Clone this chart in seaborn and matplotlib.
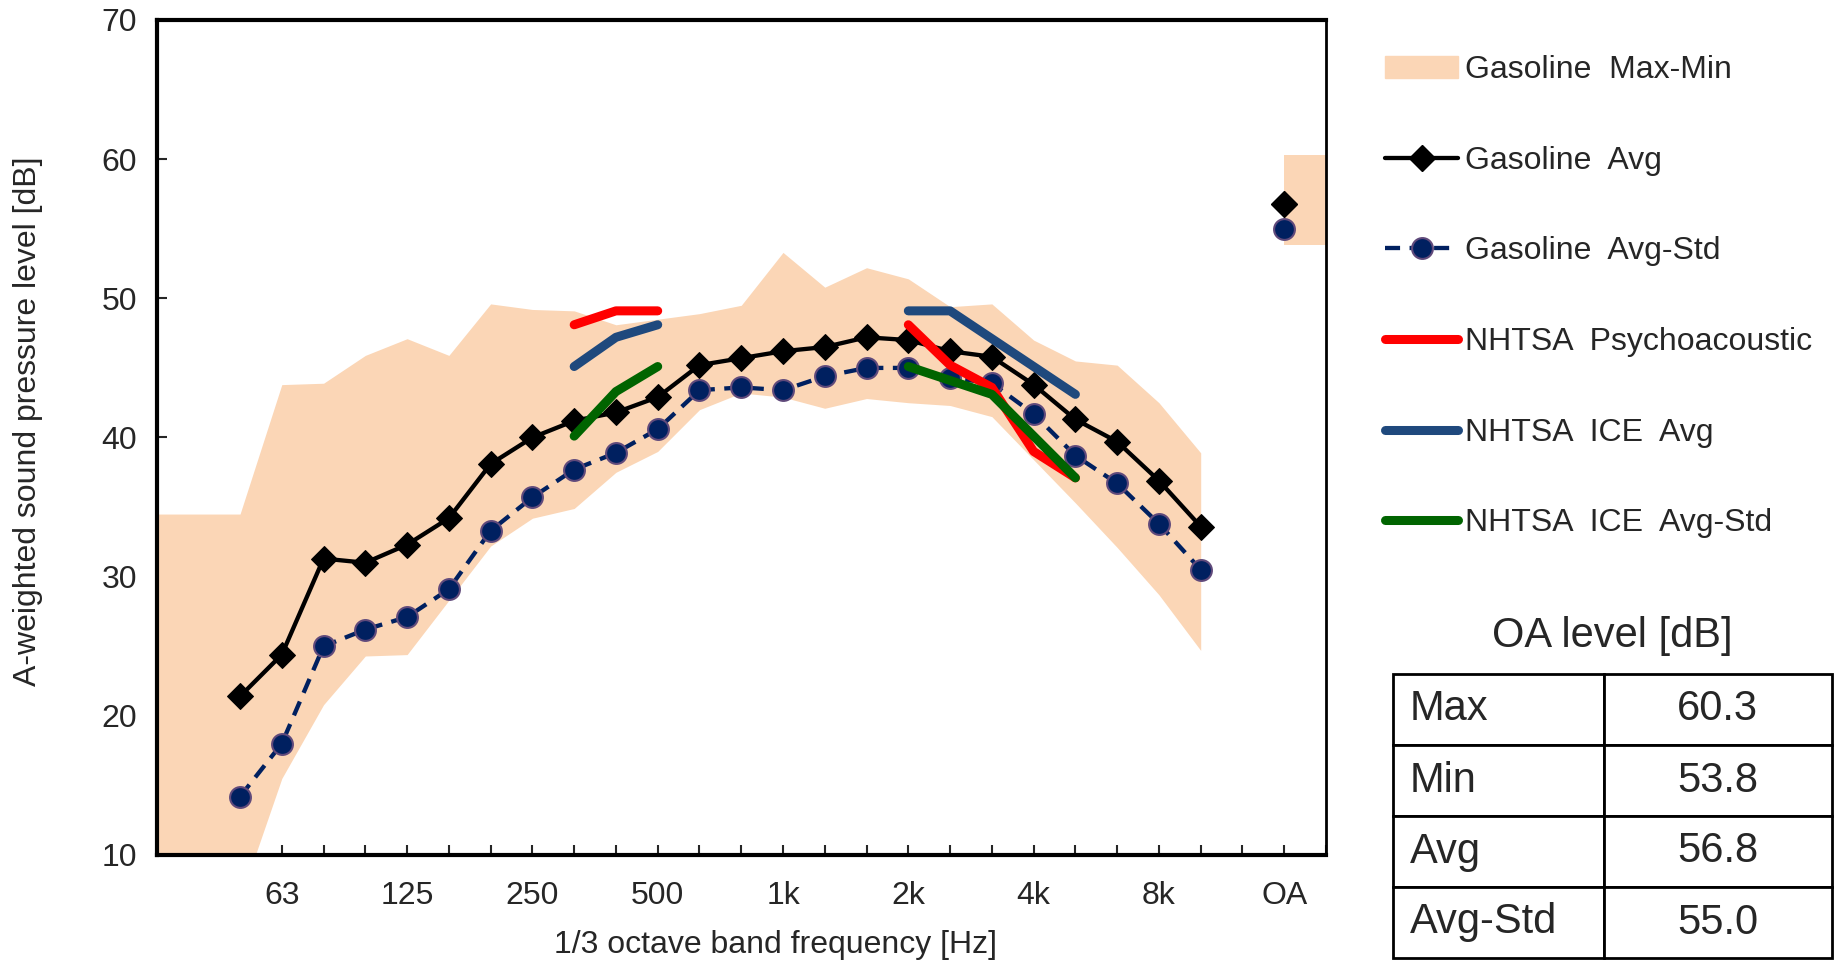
import numpy as np
import matplotlib
matplotlib.use('Agg')
import matplotlib.pyplot as plt
import seaborn as sns
from matplotlib.patches import Patch

# Category axis: two empty slots, 1/3 octave bands 50 Hz - 10 kHz, empty slot, OA
bands = ['50', '63', '80', '100', '125', '160', '200', '250', '315', '400', '500',
         '630', '800', '1k', '1.25k', '1.6k', '2k', '2.5k', '3.15k', '4k', '5k',
         '6.3k', '8k', '10k']
categories = ['', ''] + bands + ['', 'OA']
shown_labels = ['63', '125', '250', '500', '1k', '2k', '4k', '8k', 'OA']

# Gasoline Max-Min envelope (first two values belong to the empty leading slots)
gas_max = [34.5, 34.5, 34.5, 43.8, 43.9, 45.9, 47.1, 45.9, 49.6, 49.2, 49.1, 48.1,
           48.5, 48.9, 49.5, 53.3, 50.8, 52.2, 51.4, 49.4, 49.6, 47.0, 45.5, 45.2,
           42.5, 38.9]
gas_min = [0.0, 0.0, 6.8, 15.5, 20.8, 24.3, 24.4, 28.3, 32.2, 34.2, 34.9, 37.5,
           39.0, 42.0, 43.2, 42.9, 42.1, 42.8, 42.5, 42.3, 41.5, 38.4, 35.3, 32.1,
           28.7, 24.7]

# Gasoline per-band levels
gas_avg = [21.4, 24.4, 31.3, 31.0, 32.3, 34.2, 38.1, 40.0, 41.2, 41.8, 42.9, 45.2,
           45.7, 46.2, 46.5, 47.2, 47.0, 46.2, 45.8, 43.8, 41.3, 39.7, 36.9, 33.6]
gas_avg_std = [14.2, 18.0, 25.0, 26.2, 27.1, 29.1, 33.3, 35.7, 37.7, 38.9, 40.6, 43.4,
               43.6, 43.4, 44.4, 45.0, 45.0, 44.3, 43.9, 41.7, 38.7, 36.7, 33.8, 30.5]

# Overall (OA) levels
oa_names = ['Max', 'Min', 'Avg', 'Avg-Std']
oa_values = [60.3, 53.8, 56.8, 55.0]

# NHTSA minimum levels, two band groups
nhtsa_low_bands = ['315', '400', '500']
nhtsa_high_bands = ['2k', '2.5k', '3.15k', '4k', '5k']
psy_low = [48.1, 49.1, 49.1]
psy_high = [48.1, 45.2, 43.6, 39.0, 37.1]
ice_avg_low = [45.1, 47.2, 48.1]
ice_avg_high = [49.1, 49.1, 47.1, 45.1, 43.1]
ice_std_low = [40.1, 43.3, 45.1]
ice_std_high = [45.1, 44.1, 43.1, 40.1, 37.1]

sns.set_style('ticks')
plt.rcParams['font.family'] = ['Liberation Sans', 'DejaVu Sans']

pos = {c: i for i, c in enumerate(categories) if c}
band_pos = [pos[b] for b in bands]
oa_pos = pos['OA']

fig = plt.figure(figsize=(18.39, 9.67), dpi=100)
ax = fig.add_axes([156.5 / 1839, 1 - 855 / 967, (1326 - 156.5) / 1839, (855 - 20) / 967])

band_color = '#FBD6B6'
ax.fill_between(range(len(gas_max)), gas_min, gas_max, color=band_color, lw=0, zorder=1)
ax.fill_between([oa_pos, oa_pos + 1], oa_values[1], oa_values[0], color=band_color, lw=0, zorder=1)

avg_kw = dict(color='black', lw=3.1, marker='D', ms=13, mec='black')
std_kw = dict(color='#002060', lw=3.1, linestyle=(0, (3.5, 2.2)), marker='o', ms=15,
              mfc='#002060', mec='#604A7B', mew=1.5)
sns.lineplot(x=band_pos, y=gas_avg, ax=ax, zorder=3, **avg_kw)
sns.lineplot(x=band_pos, y=gas_avg_std, ax=ax, zorder=3, **std_kw)
ax.plot([oa_pos], [oa_values[2]], linestyle='none', zorder=3,
        **{k: v for k, v in avg_kw.items() if k not in ('lw',)})
ax.plot([oa_pos], [oa_values[3]], linestyle='none', zorder=3,
        **{k: v for k, v in std_kw.items() if k not in ('lw', 'linestyle')})

nhtsa = [(psy_low, psy_high, '#FF0000'),
         (ice_avg_low, ice_avg_high, '#1F497D'),
         (ice_std_low, ice_std_high, '#006400')]
for low, high, col in nhtsa:
    sns.lineplot(x=[pos[b] for b in nhtsa_low_bands], y=low, ax=ax, color=col, lw=6.5,
                 solid_capstyle='round', zorder=4)
    sns.lineplot(x=[pos[b] for b in nhtsa_high_bands], y=high, ax=ax, color=col, lw=6.5,
                 solid_capstyle='round', zorder=4)

ax.set_xlim(0, len(categories))
ax.set_ylim(10, 70)
ax.set_yticks(range(10, 71, 10))
ax.set_xticks(range(len(categories) + 1), minor=True)
ax.set_xticks([pos[c] for c in shown_labels])
ax.set_xticklabels(shown_labels)
ax.tick_params(axis='x', which='both', direction='in', length=7, width=1.5, pad=19, labelsize=23)
ax.tick_params(axis='y', direction='in', length=7, width=1.5, pad=14, labelsize=23)
for side in ['left', 'bottom', 'top']:
    ax.spines[side].set_linewidth(3)
    ax.spines[side].set_color('black')
ax.spines['right'].set_linewidth(2)
ax.spines['right'].set_color('black')
ax.set_xlabel('1/3 octave band frequency [Hz]', fontsize=23)
ax.xaxis.set_label_coords(0.529, -0.09)
ax.set_ylabel('A-weighted sound pressure level [dB]', fontsize=23)
ax.yaxis.set_label_coords(-0.097, 0.52)

handles = [
    Patch(color=band_color),
    plt.Line2D([], [], **avg_kw),
    plt.Line2D([], [], **std_kw),
    plt.Line2D([], [], color='#FF0000', lw=6.5, solid_capstyle='round'),
    plt.Line2D([], [], color='#1F497D', lw=6.5, solid_capstyle='round'),
    plt.Line2D([], [], color='#006400', lw=6.5, solid_capstyle='round'),
]
labels = ['Gasoline  Max-Min', 'Gasoline  Avg', 'Gasoline  Avg-Std',
          'NHTSA  Psychoacoustic', 'NHTSA  ICE  Avg', 'NHTSA  ICE  Avg-Std']
fig.legend(handles, labels, loc='upper left', bbox_to_anchor=(1385 / 1839, 1 - 55 / 967),
           frameon=False, fontsize=23, handlelength=2.3, handletextpad=0.2,
           labelspacing=1.9, borderpad=0, borderaxespad=0)

# OA level table
fig.text(1612 / 1839, 1 - 636 / 967, 'OA level [dB]', fontsize=30, ha='center', va='center')
tax = fig.add_axes([1393 / 1839, 1 - 958 / 967, (1832 - 1393) / 1839, (958 - 674) / 967])
tax.axis('off')
cell_text = [[n, f'{v:.1f}'] for n, v in zip(oa_names, oa_values)]
tab = tax.table(cellText=cell_text, bbox=[0, 0, 1, 1], colWidths=[0.48, 0.52])
tab.auto_set_font_size(False)
for (r, c), cell in tab.get_celld().items():
    cell.set_linewidth(2)
    cell.set_edgecolor('black')
    cell.get_text().set_fontsize(30)
    if c == 0:
        cell.get_text().set_ha('left')
        cell.PAD = 0.08
    else:
        cell.get_text().set_ha('center')

fig.savefig('out.png', dpi=100)
plt.close(fig)
